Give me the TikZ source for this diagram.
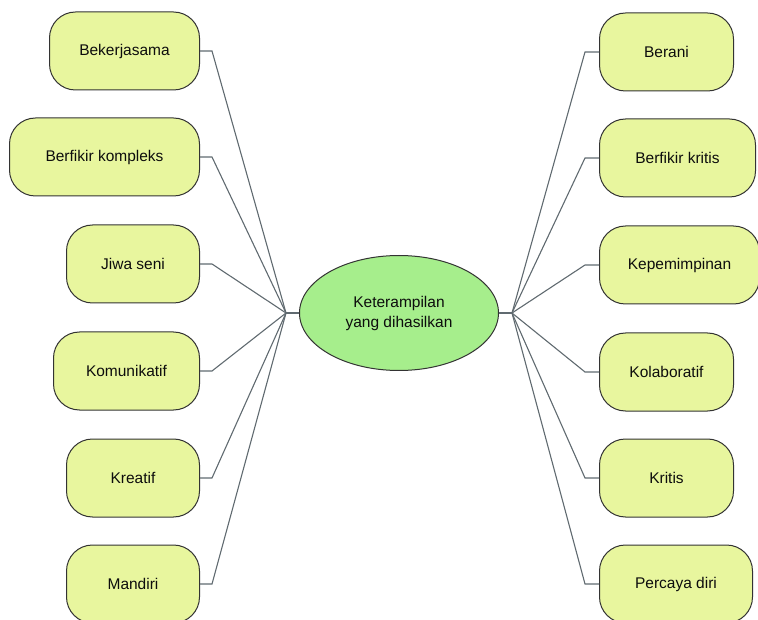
\documentclass[tikz,border=0pt]{standalone}
\usepackage{fontspec}
\setmainfont{Liberation Sans}
\usetikzlibrary{positioning, shapes.geometric}

\definecolor{skillfill}{RGB}{232,246,158}
\definecolor{corefill}{RGB}{166,238,140}
\definecolor{edgegray}{RGB}{96,106,112}

\tikzset{
	skill/.style={draw=black!80, fill=skillfill, rounded corners=26pt, minimum height=78pt, inner sep=0pt, text=black!95, font=\fontsize{15.5}{18}\selectfont, line width=1pt},
	core/.style={ellipse, draw=black!80, fill=corefill, minimum width=199pt, minimum height=115pt, inner sep=0pt, align=center, text=black!95, font=\fontsize{15.5}{20}\selectfont, line width=1pt},
	link/.style={draw=edgegray, line width=1.1pt}
}

\begin{document}
\begin{tikzpicture}[
	x=1pt,
	y=-1pt
]

\useasboundingbox (0,0) rectangle (758,620);

 \node [core] (ket) at (399,313) {Keterampilan\\yang dihasilkan};
 \coordinate [left=13pt of ket.west]  (hub_l);
 \coordinate [right=13pt of ket.east] (hub_r);

% kiri
 \node [skill, minimum width=150pt, anchor=east] (bek) at (200,51)  {Bekerjasama};
 \node [skill, minimum width=190pt, anchor=east] (bkp) at (200,157) {Berfikir kompleks};
 \node [skill, minimum width=133pt, anchor=east] (jiw) at (200,264) {Jiwa seni};
 \node [skill, minimum width=146pt, anchor=east] (kom) at (200,371) {Komunikatif};
 \node [skill, minimum width=133pt, anchor=east] (kre) at (200,478) {Kreatif};
 \node [skill, minimum width=133pt, anchor=east] (man) at (200,584) {Mandiri};

% kanan
 \node [skill, minimum width=134pt, anchor=west] (ber) at (599,52)  {Berani};
 \node [skill, minimum width=156pt, anchor=west] (bkr) at (599,158) {Berfikir kritis};
 \node [skill, minimum width=160pt, anchor=west] (kep) at (599,265) {Kepemimpinan};
 \node [skill, minimum width=134pt, anchor=west] (kol) at (599,372) {Kolaboratif};
 \node [skill, minimum width=134pt, anchor=west] (kri) at (599,478) {Kritis};
 \node [skill, minimum width=153pt, anchor=west] (per) at (599,584) {Percaya diri};

 \path [link] (hub_l) edge (ket.west)
              (hub_r) edge (ket.east);

 \draw [link] (bek.east) -- ++(12,0) -- (hub_l);
 \draw [link] (bkp.east) -- ++(12,0) -- (hub_l);
 \draw [link] (jiw.east) -- ++(12,0) -- (hub_l);
 \draw [link] (kom.east) -- ++(12,0) -- (hub_l);
 \draw [link] (kre.east) -- ++(12,0) -- (hub_l);
 \draw [link] (man.east) -- ++(12,0) -- (hub_l);

 \draw [link] (ber.west) -- ++(-14,0) -- (hub_r);
 \draw [link] (bkr.west) -- ++(-14,0) -- (hub_r);
 \draw [link] (kep.west) -- ++(-14,0) -- (hub_r);
 \draw [link] (kol.west) -- ++(-14,0) -- (hub_r);
 \draw [link] (kri.west) -- ++(-14,0) -- (hub_r);
 \draw [link] (per.west) -- ++(-14,0) -- (hub_r);

\end{tikzpicture}
\end{document}
